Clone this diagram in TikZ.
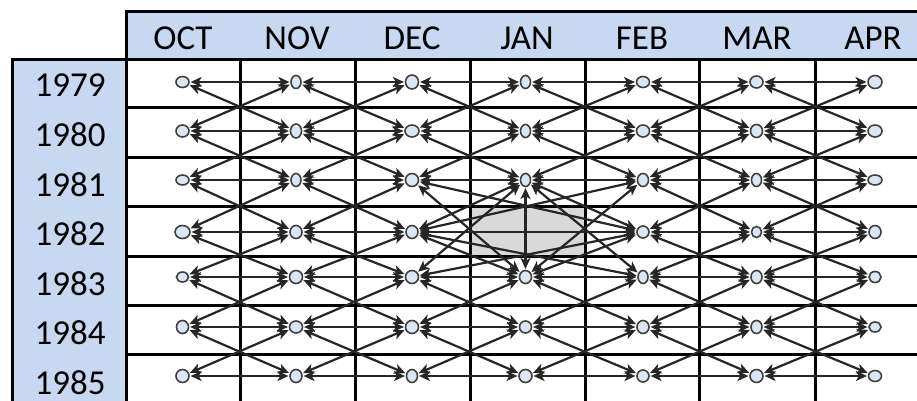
\documentclass[tikz,border=0pt]{standalone}
\usepackage{fontspec}
\setmainfont{Carlito}
\usetikzlibrary{arrows.meta,shapes.geometric}
\definecolor{hdr}{HTML}{C6D9F1}
\definecolor{nfill}{HTML}{DCE6F2}
\definecolor{nline}{HTML}{404040}
\definecolor{eline}{HTML}{262626}
\definecolor{cellgray}{HTML}{D9D9D9}
\tikzset{
  gridline/.style={line width=3pt, draw=black},
  pnode/.style={draw=nline, fill=nfill, line width=1.6pt, ellipse, inner sep=0pt},
  link/.style={draw=eline, line width=2.2pt,
    {Stealth[length=11pt,width=10pt,inset=3pt]}-{Stealth[length=11pt,width=10pt,inset=3pt]},
    shorten <=0.8pt, shorten >=0.8pt},
  lbl/.style={font=\fontsize{35}{42}\selectfont, anchor=base, inner sep=0pt}
}
\begin{document}
\begin{tikzpicture}[x=1pt,y=-1pt]
\useasboundingbox (0,0) rectangle (917,401);
\clip (0,0) rectangle (917,401);
% fills
\fill[hdr] (126,12) rectangle (917,60);
\fill[hdr] (12,60) rectangle (126,401);
\fill[cellgray] (470,206) rectangle (585,256);
% grid
\draw[gridline] (126,401) -- (126,12) -- (917,12);
\draw[gridline] (12,401) -- (12,60) -- (917,60);
\foreach \yy in {108,157,206,256,305,354} \draw[gridline] (126,\yy) -- (917,\yy);
\foreach \xx in {240,355,470,585,699,815} \draw[gridline] (\xx,60) -- (\xx,401);
% header labels
\foreach \m/\xx in {OCT/183,NOV/297,DEC/412,JAN/527,FEB/642,MAR/757,APR/873}
  \node[lbl] (h\m) at (\xx,50) {\m};
% year labels
\foreach \yr [count=\i from 0] in {1979,1980,1981,1982,1983,1984,1985}
  \node[lbl] (y\yr) at (70,{97+49.5*\i}) {\yr};
% nodes
\def\colx{{182.5,296,412,525.5,643,756.5,875}}
\def\rowy{{82,131,180,232,277,327,376}}
\foreach \c/\r/\w/\h in {
 1/1/13/11, 2/1/10/13, 3/1/13/14, 4/1/10/13, 5/1/13/11, 6/1/13/12, 7/1/14/13,
 1/2/13/12, 2/2/11/14, 3/2/14/12, 4/2/10/13, 5/2/13/12, 6/2/12/13, 7/2/14/12,
 1/3/13/10, 2/3/10/13, 3/3/13/13, 4/3/10/13, 5/3/11/13, 6/3/10/13, 7/3/14/10,
 1/4/15/13, 2/4/12/13, 3/4/12/13,            5/4/12/12, 6/4/10/11, 7/4/12/13,
 1/5/12/10, 2/5/13/13, 3/5/13/13, 4/5/12/13, 5/5/10/13, 6/5/11/13, 7/5/12/11,
 1/6/12/13, 2/6/13/12, 3/6/13/13, 4/6/12/12, 5/6/12/13, 6/6/11/13, 7/6/12/10,
 1/7/13/13, 2/7/12/13, 3/7/11/13, 4/7/13/13, 5/7/12/12, 6/7/13/13, 7/7/13/11}{
  \pgfmathsetmacro\px{\colx[\c-1]}
  \pgfmathsetmacro\py{\rowy[\r-1]}
  \node[pnode, minimum width=\w pt, minimum height=\h pt] (n\c\r) at (\px,\py) {};
}
% regular links
\foreach \c in {1,...,6}{
  \foreach \r in {1,...,7}{
    \pgfmathtruncatemacro\nc{\c+1}
    \pgfmathtruncatemacro\nr{\r+1}
    \pgfmathtruncatemacro\skipH{(\r==4)&&((\c==3)||(\c==4))}
    \ifnum\skipH=0 \draw[link] (n\c\r) -- (n\nc\r);\fi
    \ifnum\r<7
      \pgfmathtruncatemacro\skipA{((\c==3)&&(\r==3))||((\c==4)&&(\r==4))}
      \ifnum\skipA=0 \draw[link] (n\c\r) -- (n\nc\nr);\fi
      \pgfmathtruncatemacro\skipB{((\c==4)&&(\r==3))||((\c==3)&&(\r==4))}
      \ifnum\skipB=0 \draw[link] (n\c\nr) -- (n\nc\r);\fi
    \fi
  }
}
% links around the missing JAN 1982 point
\draw[link] (n43) -- (n45);
\draw[link] (n34) -- (n54);
\draw[link] (n33) -- (n45);
\draw[link] (n35) -- (n43);
\draw[link] (n43) -- (n55);
\draw[link] (n45) -- (n53);
\draw[link] (n34) -- (n53);
\draw[link] (n34) -- (n55);
\draw[link] (n33) -- (n54);
\draw[link] (n35) -- (n54);
\end{tikzpicture}
\end{document}
